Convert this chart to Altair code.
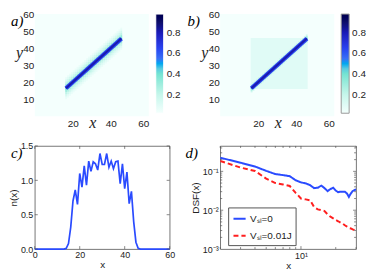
import altair as alt
import pandas as pd

# ---------------- data ----------------
# heatmap panels (a) and (b): density on a 60x60 grid
grid = [0, 60]
bg_value = 0.02
diag_pos = list(range(16, 46))          # cells along the diagonal
diag_ends = [16.4, 45.6]                # ends of the sharp diagonal ridge
a_offsets = [0, 1, 2, 3, 4, 5, 6]
a_values = [0.45, 0.38, 0.3, 0.22, 0.16, 0.1, 0.06]
b_offsets = [0, 1, 2]
b_values = [0.45, 0.32, 0.18]
b_square = [16, 46]
b_square_value = 0.1

hm_xticks = [20, 40, 60]
hm_yticks = [10, 20, 30, 40, 50, 60]
cbar_ticks = [0.2, 0.4, 0.6, 0.8]
cmap_stops = [0.02, 0.2, 0.4, 0.47, 0.55, 0.65, 0.8, 0.9, 0.98]
cmap_colors = ["#f4fffd", "#c6f6eb", "#74e4d2", "#5cc2e2", "#3a6ef6",
               "#2a42f0", "#1a1ab8", "#0e0e6a", "#000000"]
ridge_colors = ["#2a42f0", "#1a1ab0"]   # outer / inner ridge (values ~0.6 / ~0.85)

# panel (c): n(x)
c_x = list(range(0, 61))
c_n = [0, 0, 0, 0, 0, 0, 0, 0, 0, 0, 0, 0, 0, 0, 0.01,
       0.08, 0.32, 0.70, 0.86, 0.65, 1.10, 0.90, 1.21, 0.93, 1.28,
       1.13, 1.27, 1.24, 1.15, 1.39, 1.23, 1.23, 1.39, 1.19, 1.28,
       1.17, 1.27, 1.28, 0.95, 1.24, 0.88, 1.12, 0.66, 0.84, 0.40,
       0.10, 0.01, 0, 0, 0, 0, 0, 0, 0, 0, 0, 0, 0, 0, 0, 0]
c_xticks = [0, 20, 40, 60]
c_yticks = [0, 0.5, 1, 1.5]

# panel (d): DSF(x)
d_x = list(range(2, 31))
d_v0 = [0.224, 0.167, 0.133, 0.103, 0.085, 0.080, 0.075, 0.059, 0.052, 0.049,
        0.044, 0.037, 0.038, 0.043, 0.037, 0.031, 0.035, 0.038, 0.032, 0.029,
        0.030, 0.030, 0.030, 0.027, 0.022, 0.027, 0.031, 0.033, 0.034]
d_v1 = [0.185, 0.125, 0.102, 0.065, 0.050, 0.046, 0.042, 0.028, 0.020, 0.019,
        0.018, 0.012, 0.0105, 0.010, 0.0095, 0.0078, 0.0068, 0.0062, 0.0056, 0.0052,
        0.0048, 0.0045, 0.0041, 0.0038, 0.0035, 0.0034, 0.0032, 0.0031, 0.0029]
d_names = ["V\u209b\u2097=0", "V\u209b\u2097=0.01J"]
d_colors = ["#2a4bff", "#ff1f1f"]
d_xticks_major = [10]
d_xticks_minor = [2, 3, 4, 5, 6, 7, 8, 9, 20, 30]
d_yticks_major = [0.001, 0.01, 0.1]
d_yticks_minor = [0.002, 0.003, 0.004, 0.005, 0.006, 0.007, 0.008, 0.009,
                  0.02, 0.03, 0.04, 0.05, 0.06, 0.07, 0.08, 0.09,
                  0.2, 0.3, 0.4]

panel_labels = ["a)", "b)", "c)", "d)"]

SANS = "Liberation Sans"
SERIF = "Liberation Serif"
FRAME = "#555555"

# ---------------- build tables ----------------
def cells(offsets, values, square=None, square_value=None):
    rows = [dict(x0=grid[0], x1=grid[1], y0=grid[0], y1=grid[1], v=bg_value)]
    if square is not None:
        rows.append(dict(x0=square[0], x1=square[1], y0=square[0], y1=square[1], v=square_value))
    for d, val in sorted(zip(offsets, values), reverse=True):
        for s in ([d, -d] if d else [0]):
            for i in diag_pos:
                j = i + s
                if grid[0] <= j < grid[1]:
                    rows.append(dict(x0=i, x1=i + 1, y0=j, y1=j + 1, v=val))
    return pd.DataFrame(rows)

df_a = cells(a_offsets, a_values)
df_b = cells(b_offsets, b_values, b_square, b_square_value)
df_c = pd.DataFrame({"x": c_x, "n": c_n})
df_d = pd.DataFrame({
    "x": d_x + d_x,
    "v": d_v0 + d_v1,
    "s": [d_names[0]] * len(d_x) + [d_names[1]] * len(d_x),
})

# ---------------- scales & axes ----------------
hm_xscale = alt.Scale(domain=grid, nice=False, zero=False)
hm_yscale = alt.Scale(domain=grid, nice=False, zero=False)
hm_cscale = alt.Scale(domain=cmap_stops, range=cmap_colors)
hm_xaxis = alt.Axis(values=hm_xticks, domain=False, ticks=False, grid=False,
                    labelFont=SANS, labelFontSize=10, labelPadding=2,
                    labelColor="#222", title="x", titleFont=SERIF,
                    titleFontStyle="italic", titleFontWeight="normal",
                    titleFontSize=16, titleX=58, titleY=11,
                    titleBaseline="alphabetic", titleColor="#222")
hm_yaxis = alt.Axis(values=hm_yticks, domain=False, ticks=False, grid=False,
                    labelFont=SANS, labelFontSize=10, labelPadding=1,
                    labelColor="#222", title="y", titleFont=SERIF,
                    titleFontStyle="italic", titleFontWeight="normal",
                    titleFontSize=16, titleAngle=0, titleX=-16, titleY=44,
                    titleAlign="center", titleBaseline="alphabetic",
                    titleColor="#222")


def label(t, dx, size=15):
    return alt.Chart(pd.DataFrame({"t": [t]})).mark_text(
        font=SERIF, fontStyle="italic", fontSize=size, color="black",
        align="left", baseline="alphabetic").encode(
        text="t:N", x=alt.value(dx), y=alt.value(12))


def ridge(width, color):
    df = pd.DataFrame({"x0": diag_ends, "y0": diag_ends})
    return alt.Chart(df).mark_line(strokeWidth=width, strokeCap="butt",
                                   color=color).encode(
        x=alt.X("x0:Q", scale=hm_xscale, axis=hm_xaxis),
        y=alt.Y("y0:Q", scale=hm_yscale, axis=hm_yaxis))


def heatmap(df, lab, dx, cbar_stroke):
    base = alt.Chart(df).mark_rect().encode(
        x=alt.X("x0:Q", scale=hm_xscale, axis=hm_xaxis),
        x2="x1:Q",
        y=alt.Y("y0:Q", scale=hm_yscale, axis=hm_yaxis),
        y2="y1:Q",
        color=alt.Color("v:Q", scale=hm_cscale,
                        legend=alt.Legend(orient="right", offset=7, title=None,
                                          type="gradient",
                                          gradientLength=100, gradientThickness=8,
                                          values=cbar_ticks, labelFont=SANS,
                                          labelFontSize=10, labelColor="#222",
                                          labelOffset=3, direction="vertical",
                                          gradientStrokeColor=cbar_stroke,
                                          gradientStrokeWidth=1)),
    )
    return alt.layer(base, ridge(4.2, ridge_colors[0]), ridge(2.0, ridge_colors[1]),
                     label(lab, dx)).properties(
        width=115, height=103, view=alt.ViewBackground(strokeWidth=0))


def ticks_x(values, field, scale, axis, h, length):
    df = pd.DataFrame({field: values})
    bot = alt.Chart(df).mark_rule(color=FRAME, strokeWidth=0.7).encode(
        x=alt.X(f"{field}:Q", scale=scale, axis=axis),
        y=alt.value(h), y2=alt.value(h - length))
    top = alt.Chart(df).mark_rule(color=FRAME, strokeWidth=0.7).encode(
        x=alt.X(f"{field}:Q", scale=scale, axis=axis),
        y=alt.value(0), y2=alt.value(length))
    return [bot, top]


def ticks_y(values, field, scale, axis, w, length):
    df = pd.DataFrame({field: values})
    left = alt.Chart(df).mark_rule(color=FRAME, strokeWidth=0.7).encode(
        y=alt.Y(f"{field}:Q", scale=scale, axis=axis),
        x=alt.value(0), x2=alt.value(length))
    right = alt.Chart(df).mark_rule(color=FRAME, strokeWidth=0.7).encode(
        y=alt.Y(f"{field}:Q", scale=scale, axis=axis),
        x=alt.value(w), x2=alt.value(w - length))
    return [left, right]


chart_a = heatmap(df_a, panel_labels[0], -24, "#ffffff")
chart_b = heatmap(df_b, panel_labels[1], -33, "#999999")

# ---- panel c ----
c_xscale = alt.Scale(domain=[0, 60], nice=False)
c_yscale = alt.Scale(domain=[0, 1.5], nice=False)
c_xaxis = alt.Axis(values=c_xticks, grid=False, domain=False, ticks=False,
                   labelFont=SANS, labelFontSize=9, labelPadding=1,
                   labelColor="#222", labelFlush=False, labelOverlap=False,
                   title="x", titleFont=SANS, titleFontSize=10,
                   titleFontWeight="normal", titlePadding=1, titleColor="#222")
c_yaxis = alt.Axis(values=c_yticks, grid=False, domain=False, ticks=False,
                   labelFont=SANS, labelFontSize=9, labelPadding=2,
                   labelFlush=False, labelOverlap=False,
                   labelColor="#222", title="n(x)", titleFont=SANS,
                   titleFontSize=10, titleFontWeight="normal",
                   titlePadding=2, titleColor="#222")
c_line = alt.Chart(df_c).mark_line(color="#2a4bff", strokeWidth=1.7).encode(
    x=alt.X("x:Q", scale=c_xscale, axis=c_xaxis),
    y=alt.Y("n:Q", scale=c_yscale, axis=c_yaxis),
)
chart_c = alt.layer(
    c_line,
    *ticks_x(c_xticks, "x", c_xscale, c_xaxis, 104, 3),
    *ticks_y(c_yticks, "n", c_yscale, c_yaxis, 136, 3),
    label(panel_labels[2], -24)
).properties(width=136, height=104,
             view=alt.ViewBackground(stroke=FRAME, strokeWidth=0.8))

# ---- panel d ----
d_xscale = alt.Scale(type="log", domain=[2, 30], nice=False)
d_yscale = alt.Scale(type="log", domain=[0.001, 0.45], nice=False)
d_xaxis = alt.Axis(values=d_xticks_major, labelExpr="'10\u00b9'", grid=False,
                   domain=False, ticks=False, labelFont=SANS,
                   labelFontSize=9, labelPadding=2, labelColor="#222",
                   labelOverlap=False,
                   title="x", titleFont=SANS, titleFontSize=10,
                   titleFontWeight="normal", titlePadding=1, titleColor="#222")
d_yaxis = alt.Axis(values=d_yticks_major,
                   labelExpr="datum.value < 0.005 ? '10\u207b\u00b3' : "
                             "(datum.value < 0.05 ? '10\u207b\u00b2' : '10\u207b\u00b9')",
                   grid=False, domain=False, ticks=False, labelFont=SANS,
                   labelFontSize=9, labelPadding=2, labelColor="#222",
                   labelOverlap=False,
                   title="DSF(x)", titleFont=SANS, titleFontSize=10,
                   titleFontWeight="normal", titlePadding=2, titleColor="#222")
d_legend = alt.Legend(orient="none", legendX=8, legendY=62, title=None,
                      strokeColor=FRAME, fillColor="white", padding=4,
                      symbolType="stroke", symbolSize=150, symbolStrokeWidth=2,
                      labelFont=SANS, labelFontSize=10, labelColor="#222",
                      labelOffset=3, rowPadding=4)

d_line = alt.Chart(df_d).mark_line(strokeWidth=2, clip=True).encode(
    x=alt.X("x:Q", scale=d_xscale, axis=d_xaxis),
    y=alt.Y("v:Q", scale=d_yscale, axis=d_yaxis),
    color=alt.Color("s:N", scale=alt.Scale(domain=d_names, range=d_colors),
                    legend=d_legend),
    strokeDash=alt.StrokeDash("s:N", scale=alt.Scale(domain=d_names,
                                                    range=[[1, 0], [5, 3]]),
                              legend=d_legend),
)
chart_d = alt.layer(
    d_line,
    *ticks_x(d_xticks_major[:1], "x", d_xscale, d_xaxis, 104, 3),
    *ticks_x(d_xticks_minor, "x", d_xscale, d_xaxis, 104, 2),
    *ticks_y(d_yticks_major[1:], "v", d_yscale, d_yaxis, 137, 3),
    *ticks_y(d_yticks_minor, "v", d_yscale, d_yaxis, 137, 2),
    label(panel_labels[3], -35)
).properties(width=137, height=104,
             view=alt.ViewBackground(stroke=FRAME, strokeWidth=0.8))

chart = alt.concat(chart_a, chart_b, chart_c, chart_d, columns=2,
                   spacing={"row": 30, "column": 51}, bounds="flush").resolve_scale(
    color="independent", strokeDash="independent", x="independent",
    y="independent").resolve_legend(
    color="independent", strokeDash="independent").properties(
    padding={"left": 0, "top": 0, "right": 0, "bottom": 0}
).configure(background="white")

chart.save("out.html", embed_options={"renderer": "svg", "actions": False})
